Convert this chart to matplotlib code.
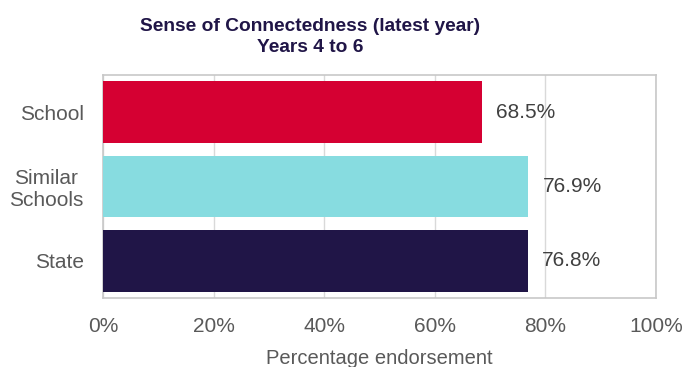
import matplotlib
matplotlib.use("Agg")
import matplotlib.pyplot as plt
from matplotlib.ticker import FuncFormatter

categories = ["School", "Similar\nSchools", "State"]
values = [68.5, 76.9, 76.8]
colors = ["#D50032", "#87DCE0", "#201547"]
xticks = [0, 20, 40, 60, 80, 100]

plt.rcParams['font.family'] = ['Liberation Sans', 'DejaVu Sans']

fig = plt.figure(figsize=(6.84, 3.67), dpi=100)
ax = fig.add_axes([103/684, 1-298/367, (656-103)/684, (298-75)/367])

ypos = list(range(len(categories)))
ax.barh(ypos, values, height=0.83, color=colors, zorder=3)
for y, v in zip(ypos, values):
    ax.text(v + 2.6, y, f"{v:.1f}%", va="center", ha="left", fontsize=15, color="#404040")

ax.set_xlim(0, 100)
ax.set_ylim(2.5, -0.5)
ax.set_yticks(ypos)
ax.set_yticklabels(categories, fontsize=15, color="#595959", multialignment='center')
ax.set_xticks(xticks)
ax.xaxis.set_major_formatter(FuncFormatter(lambda v, p: f"{v:.0f}%"))
ax.tick_params(axis='x', labelsize=15, colors="#595959", length=0, pad=14)
ax.tick_params(axis='y', length=0, pad=14)
ax.grid(axis='x', color="#D9D9D9", linewidth=1, zorder=0)
for s in ax.spines.values():
    s.set_color("#C8C8C8")
    s.set_linewidth(1.2)
ax.set_xlabel("Percentage endorsement", fontsize=14.5, color="#595959", labelpad=9)

fig.text(310/684, 1-37/367, "Sense of Connectedness (latest year)\nYears 4 to 6",
         ha="center", va="center", fontsize=13.8, fontweight="bold", color="#201547",
         linespacing=1.32)

fig.savefig("out.png", dpi=100)
